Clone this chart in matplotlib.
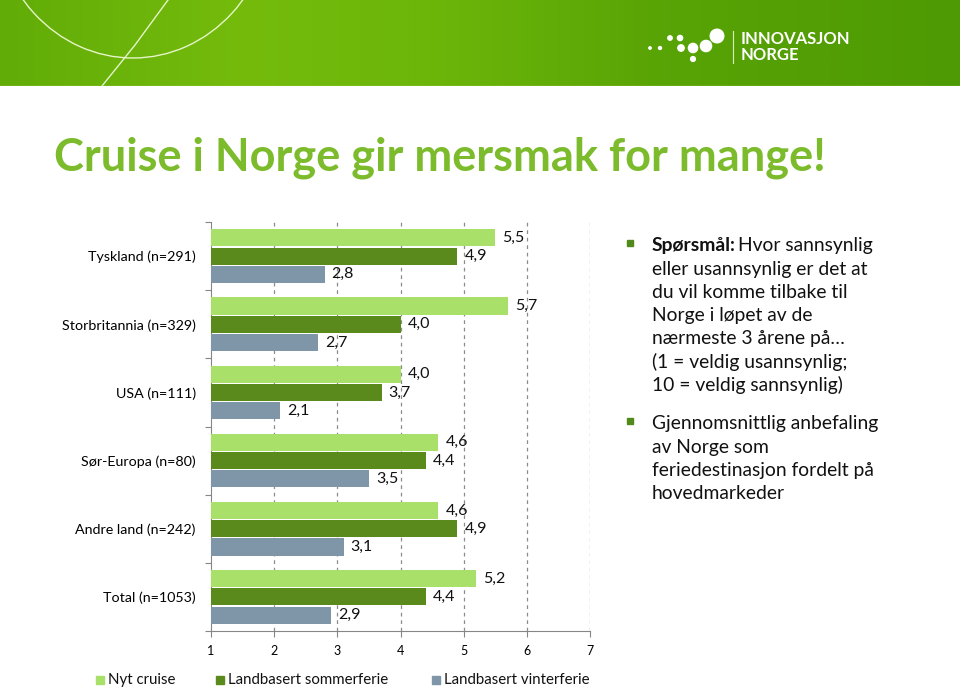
import numpy as np
import matplotlib
matplotlib.use("Agg")
import matplotlib.pyplot as plt
from matplotlib.patches import Rectangle, Circle, Arc
from matplotlib.colors import LinearSegmentedColormap

categories = ["Tyskland (n=291)", "Storbritannia (n=329)", "USA (n=111)",
              "Sør-Europa (n=80)", "Andre land (n=242)", "Total (n=1053)"]
series_names = ["Nyt cruise", "Landbasert sommerferie", "Landbasert vinterferie"]
nyt_cruise = [5.5, 5.7, 4.0, 4.6, 4.6, 5.2]
sommerferie = [4.9, 4.0, 3.7, 4.4, 4.9, 4.4]
vinterferie = [2.8, 2.7, 2.1, 3.5, 3.1, 2.9]
x_ticks = [1, 2, 3, 4, 5, 6, 7]

colors = ["#a9e06a", "#5a8a1c", "#7f95a8"]
FONT = "Lato"
plt.rcParams['font.family'] = [FONT, 'DejaVu Sans']

W, H = 960, 689
fig = plt.figure(figsize=(W / 100, H / 100), dpi=100)

def fx(x):
    return x / W

def fy(y):
    return 1 - y / H

# ---- header band ----
hdr = fig.add_axes([0, fy(86), 1, 86 / H])
cmap = LinearSegmentedColormap.from_list(
    "hdr", [(0.0, "#62ac08"), (0.25, "#74bb0c"), (0.45, "#6cb60a"),
            (0.7, "#58a305"), (1.0, "#4e9a04")])
grad = np.linspace(0, 1, 512)[None, :]
hdr.imshow(grad, aspect="auto", cmap=cmap, extent=[0, W, 86, 0])
hdr.set_xlim(0, W)
hdr.set_ylim(86, 0)
hdr.axis("off")
hdr.add_patch(Arc((133, -95), 280, 306, theta1=0, theta2=360,
                  color="#e6f5c8", lw=1.0))
hdr.plot([168, 135, 102], [0, 45, 86], color="#e6f5c8", lw=1.0)
for (cx, cy, r) in [(650, 48, 1.2), (660, 48, 1.5), (670, 38, 2.2), (680, 38, 2.6),
                    (681, 48, 3.2), (693, 48, 4.6), (706, 46, 5.6), (717, 36, 6.8),
                    (693, 59, 2.4)]:
    hdr.add_patch(Circle((cx, cy), r, color="white"))
hdr.plot([733, 733], [31, 63], color="#d8ecc0", lw=0.8)
hdr.text(741, 39, "INNOVASJON", color="white", fontsize=12, fontweight="bold",
         va="center", ha="left", family=FONT)
hdr.text(741, 55, "NORGE", color="white", fontsize=12, fontweight="bold",
         va="center", ha="left", family=FONT)
hdr.plot([0, W], [85.5, 85.5], color="#9fd24a", lw=1.0)

# ---- title ----
fig.text(fx(54), fy(158), "Cruise i Norge gir mersmak for mange!", color="#7cbb2b",
         fontsize=32.5, fontweight="bold", va="center", ha="left")

# ---- chart ----
ax = fig.add_axes([fx(211), fy(631), fx(590) - fx(211), (631 - 222) / H])
y = np.arange(len(categories))
off = 0.268
hgt = 0.25
data = [nyt_cruise, sommerferie, vinterferie]
for k, (vals, c) in enumerate(zip(data, colors)):
    pos = y + (k - 1) * off
    ax.barh(pos, np.array(vals) - 1, left=1, height=hgt, color=c, zorder=3)
    for p, v in zip(pos, vals):
        ax.text(v + 0.11, p, f"{v:.1f}".replace(".", ","), va="center", ha="left",
                fontsize=11.5, color="#111111")

ax.set_xlim(1, 7)
ax.set_ylim(len(categories) - 0.5, -0.5)
ax.set_xticks(x_ticks)
ax.set_xticklabels([str(t) for t in x_ticks], fontsize=9)
ax.tick_params(axis="x", length=4, color="#868686", pad=6)
ax.set_yticks(np.arange(-0.5, len(categories), 1.0))
ax.set_yticklabels([])
ax.tick_params(axis="y", which="major", length=4, color="#868686")
ax.set_yticks(y, minor=True)
ax.set_yticklabels(categories, minor=True, fontsize=10.3)
ax.tick_params(axis="y", which="minor", length=0, pad=11)
for xv in x_ticks[1:]:
    ax.axvline(xv, color="#8c8c8c", lw=0.9, ls=(0, (3, 3)), zorder=1)
for s in ["top", "right"]:
    ax.spines[s].set_visible(False)
for s in ["left", "bottom"]:
    ax.spines[s].set_color("#868686")
ax.set_facecolor("none")

# ---- legend ----
leg_items = [(100, series_names[0]), (220, series_names[1]), (436, series_names[2])]
for (lx, name), c in zip(leg_items, colors):
    fig.patches.append(Rectangle((fx(lx - 4), fy(684)), 8 / W, 8 / H, color=c,
                                 transform=fig.transFigure))
    fig.text(fx(lx + 8), fy(680), name, fontsize=10.8, va="center", ha="left",
             color="#111111")

# ---- right text ----
bul = "#4f8a1a"
line_h = 23.2
FS = 13.9
lines1 = ["eller usannsynlig er det at", "du vil komme tilbake til",
          "Norge i løpet av de", "nærmeste 3 årene på…",
          "(1 = veldig usannsynlig;", "10 = veldig sannsynlig)"]
ytop = 246
fig.patches.append(Rectangle((fx(627), fy(ytop)), 6 / W, 6 / H, color=bul,
                             transform=fig.transFigure))
fig.text(fx(652), fy(ytop), "Spørsmål:", fontsize=FS, fontweight="bold",
         va="center", ha="left", color="#111111")
fig.text(fx(738), fy(ytop), "Hvor sannsynlig", fontsize=FS, va="center",
         ha="left", color="#111111")
for i, ln in enumerate(lines1):
    fig.text(fx(652), fy(ytop + (i + 1) * line_h), ln, fontsize=FS,
             va="center", ha="left", color="#111111")
lines2 = ["Gjennomsnittlig anbefaling", "av Norge som",
          "feriedestinasjon fordelt på", "hovedmarkeder"]
y2 = 424
fig.patches.append(Rectangle((fx(627), fy(y2)), 6 / W, 6 / H, color=bul,
                             transform=fig.transFigure))
for i, ln in enumerate(lines2):
    fig.text(fx(652), fy(y2 + i * line_h), ln, fontsize=FS,
             va="center", ha="left", color="#111111")

fig.savefig("out.png", dpi=100)
